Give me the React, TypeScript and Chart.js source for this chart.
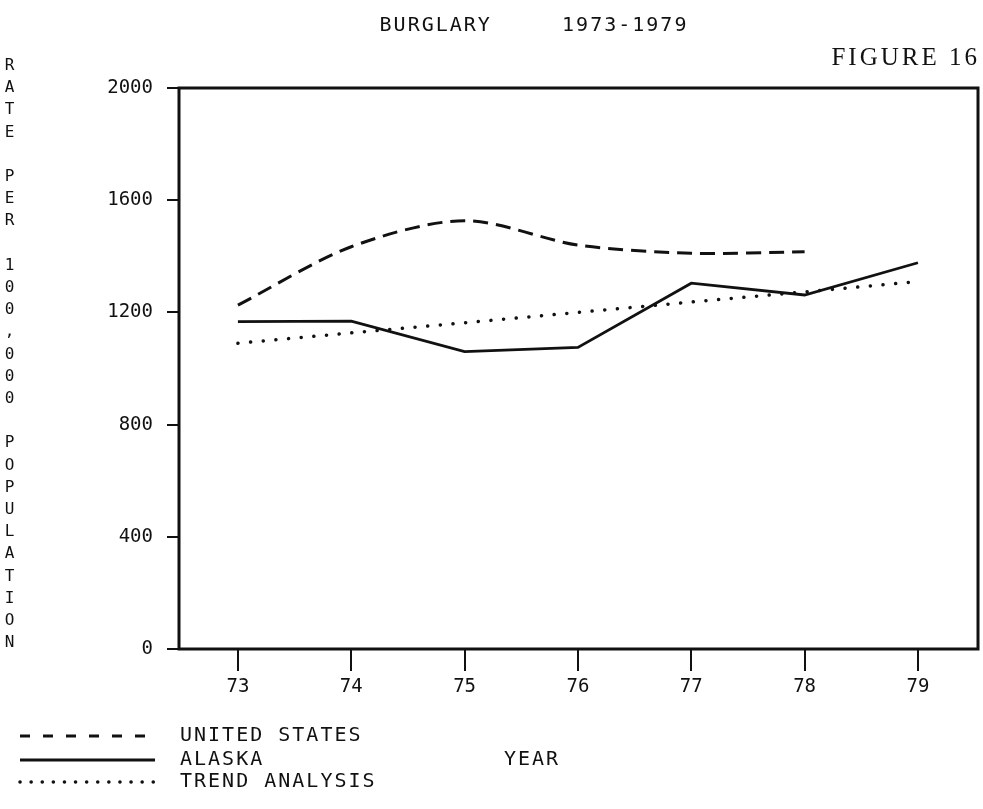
import { useEffect, useRef } from 'react';
import { Chart, registerables } from 'chart.js';

Chart.register(...registerables);

const years = [73, 74, 75, 76, 77, 78, 79];
const yTicks = [0, 400, 800, 1200, 1600, 2000];
const unitedStates = [1226, 1434, 1527, 1440, 1411, 1416];
const alaska = [1167, 1169, 1060, 1075, 1304, 1262, 1377];
const trend = [1090, 1127, 1163, 1200, 1237, 1273, 1310];
const seriesLabels = ['UNITED STATES', 'ALASKA', 'TREND ANALYSIS'];
const titleText = 'BURGLARY     1973-1979';
const figureText = 'FIGURE 16';
const yTitle = 'RATE PER 100,000 POPULATION';
const xTitle = 'YEAR';

const INK = '#111111';
const MONO = '"DejaVu Sans Mono", monospace';

const toPoints = (vals: number[]) => vals.map((y, i) => ({ x: years[i], y }));

const decorations = {
  id: 'decorations',
  afterDraw(chart: any) {
    const { ctx, chartArea } = chart;
    ctx.save();
    // frame
    ctx.strokeStyle = INK;
    ctx.lineWidth = 3;
    ctx.setLineDash([]);
    ctx.strokeRect(chartArea.left, chartArea.top, chartArea.right - chartArea.left, chartArea.bottom - chartArea.top);

    ctx.fillStyle = INK;
    // title
    ctx.font = `20px ${MONO}`;
    (ctx as any).letterSpacing = '2px';
    ctx.textAlign = 'center';
    ctx.textBaseline = 'middle';
    ctx.fillText(titleText, 534, 26);

    // figure label
    ctx.font = '25px "Liberation Serif", serif';
    (ctx as any).letterSpacing = '3px';
    ctx.textAlign = 'right';
    ctx.fillText(figureText, 980, 58);

    // x title
    ctx.font = `20px ${MONO}`;
    (ctx as any).letterSpacing = '2px';
    ctx.textAlign = 'center';
    ctx.fillText(xTitle, 532, 760);

    // legend
    const rows = [736, 760, 782];
    chart.data.datasets.forEach((ds: any, i: number) => {
      const y = rows[i];
      ctx.beginPath();
      ctx.strokeStyle = INK;
      ctx.lineWidth = ds.borderWidth;
      ctx.lineCap = ds.borderCapStyle || 'butt';
      ctx.setLineDash(ds.legendDash || []);
      ctx.moveTo(20, y);
      ctx.lineTo(155, y);
      ctx.stroke();
      ctx.setLineDash([]);
      ctx.font = `20px ${MONO}`;
      (ctx as any).letterSpacing = '2px';
      ctx.textAlign = 'left';
      ctx.textBaseline = 'middle';
      ctx.fillText(ds.label, 180, y);
    });
    ctx.restore();
  },
};

export default function App() {
  const ref = useRef<HTMLCanvasElement | null>(null);

  useEffect(() => {
    if (!ref.current) return;
    const chart = new Chart(ref.current, {
      type: 'line',
      data: {
        datasets: [
          {
            label: seriesLabels[0],
            data: toPoints(unitedStates),
            borderColor: INK,
            borderWidth: 3,
            borderDash: [15, 8],
            legendDash: [10, 13],
            tension: 0.3,
            pointRadius: 0,
            fill: false,
          } as any,
          {
            label: seriesLabels[1],
            data: toPoints(alaska),
            borderColor: INK,
            borderWidth: 2.8,
            tension: 0,
            pointRadius: 0,
            fill: false,
          },
          {
            label: seriesLabels[2],
            data: toPoints(trend),
            borderColor: INK,
            borderWidth: 3.5,
            borderDash: [0.1, 12.6],
            legendDash: [0.1, 11],
            borderCapStyle: 'round',
            tension: 0,
            pointRadius: 0,
            fill: false,
          } as any,
        ],
      },
      options: {
        animation: false,
        responsive: false,
        maintainAspectRatio: false,
        layout: { padding: { top: 88, right: 5, left: 0, bottom: 0 } },
        plugins: {
          legend: { display: false },
          title: { display: false },
          tooltip: { enabled: false },
        },
        scales: {
          x: {
            type: 'linear',
            min: 72.48,
            max: 79.53,
            afterBuildTicks: (s: any) => {
              s.ticks = years.map((v) => ({ value: v }));
            },
            afterFit: (s: any) => {
              s.height = 160;
            },
            ticks: {
              color: INK,
              font: { family: MONO, size: 19 },
              padding: 5,
              autoSkip: false,
              maxRotation: 0,
              callback: (v: any) => String(v),
            },
            grid: { drawOnChartArea: false, tickLength: 22, color: INK, lineWidth: 2 },
            border: { display: false },
          },
          y: {
            type: 'linear',
            min: 0,
            max: 2000,
            afterBuildTicks: (s: any) => {
              s.ticks = yTicks.map((v) => ({ value: v }));
            },
            afterFit: (s: any) => {
              s.width = 179;
            },
            ticks: {
              color: INK,
              font: { family: MONO, size: 19 },
              padding: 14,
              callback: (v: any) => String(v),
            },
            grid: { drawOnChartArea: false, tickLength: 12, color: INK, lineWidth: 2 },
            border: { display: false },
          },
        },
      },
      plugins: [decorations],
    });
    return () => chart.destroy();
  }, []);

  return (
    <div style={{ position: 'absolute', left: 0, top: 0, width: 983, height: 809, background: '#fff' }}>
      <canvas ref={ref} width={983} height={809} style={{ display: 'block' }} />
      <div
        style={{
          position: 'absolute',
          left: 0,
          top: 55,
          writingMode: 'vertical-rl',
          textOrientation: 'upright',
          fontFamily: MONO,
          fontSize: 16,
          letterSpacing: 3.2,
          color: INK,
          whiteSpace: 'nowrap',
        }}
      >
        {yTitle}
      </div>
    </div>
  );
}
